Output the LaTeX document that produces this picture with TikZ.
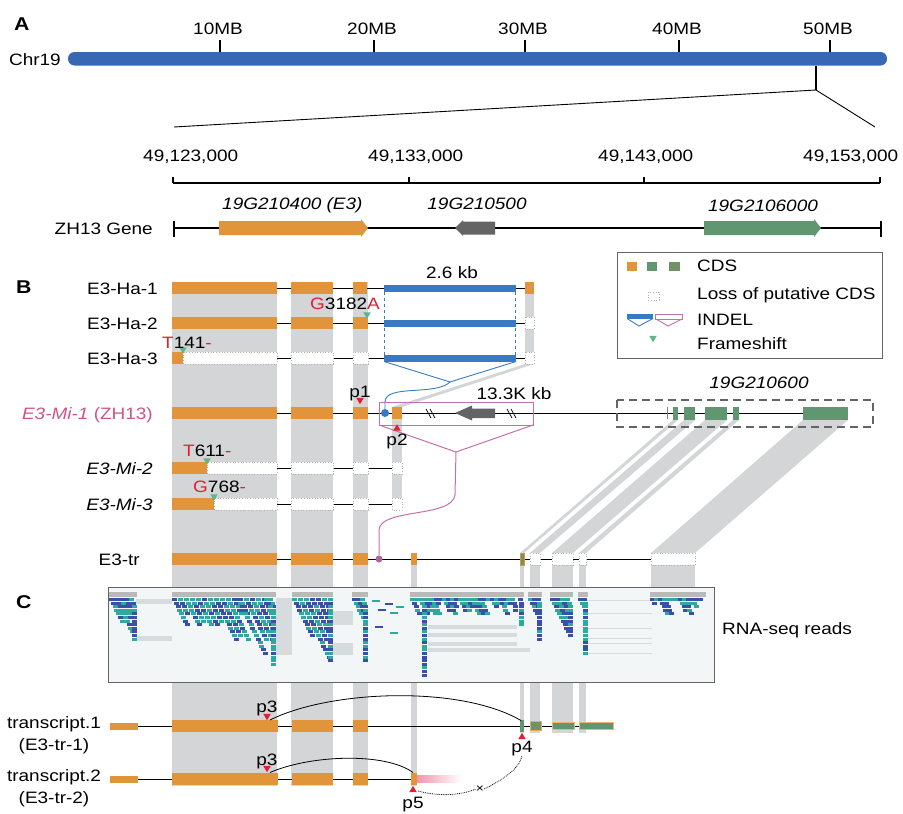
\documentclass[tikz,border=0pt]{standalone}
\usepackage{fontspec}
\setmainfont{Liberation Sans}[FakeStretch=1.15]
\usetikzlibrary{shapes.geometric}
\definecolor{cdsor}{RGB}{226,148,58}
\definecolor{cdsgr}{RGB}{96,150,112}
\definecolor{cdsgrb}{RGB}{112,146,102}
\definecolor{bandg}{RGB}{212,213,215}
\definecolor{chrblue}{RGB}{56,104,180}
\definecolor{indelblue}{RGB}{56,122,196}
\definecolor{indelpink}{RGB}{196,112,172}
\definecolor{mipink}{RGB}{206,84,134}
\definecolor{mkred}{RGB}{226,30,50}
\definecolor{fsgreen}{RGB}{92,184,138}
\definecolor{readteal}{RGB}{48,168,160}
\definecolor{readblue}{RGB}{58,80,168}
\definecolor{boxfill}{RGB}{243,246,246}
\definecolor{splitg}{RGB}{214,220,222}
\definecolor{dgray}{RGB}{100,100,100}
\definecolor{pinkutr}{RGB}{240,150,170}
\newcommand{\fsz}{\fontsize{16.5}{22}\selectfont}
\newcommand{\ex}[3]{\fill[cdsor] (#1,#3-6) rectangle (#2,#3+6);}
\newcommand{\lx}[3]{\filldraw[lost] (#1,#3-6) rectangle (#2,#3+6);}
\newcommand{\tdn}[3]{\fill[#3] (#1-3.8,#2-3.2) -- (#1+3.8,#2-3.2) -- (#1,#2+3.2) -- cycle;}
\newcommand{\tup}[3]{\fill[#3] (#1-3.8,#2+3.2) -- (#1+3.8,#2+3.2) -- (#1,#2-3.2) -- cycle;}
% staircase reads: x0, x1, min depth, max depth, spacing
\newcommand{\readcol}[5]{%
  \pgfmathtruncatemacro{\rdN}{(#2-#1-5)/#5}
  \foreach \kk in {0,...,\rdN}{
    \pgfmathrandominteger{\rdD}{#3}{#4}
    \foreach \rr in {0,...,\rdD}{
      \pgfmathrandominteger{\rdC}{0}{1}
      \ifnum\rdC=0\relax\def\rdCol{readteal}\else\def\rdCol{readblue}\fi
      \pgfmathsetmacro{\rdX}{min(#1+#5*\kk+1.8*\rr,#2-5)}
      \fill[\rdCol] (\rdX,{598+3.6*\rr}) rectangle ++(5,3);
    }
  }
}
\newcommand{\cov}[2]{\fill[gray!55] (#1,592) rectangle (#2,597.3);}
\tikzset{
  lost/.style={fill=white, draw=gray!60, dotted, line width=0.7pt},
  rowline/.style={draw=black, line width=0.8pt},
  txt/.style={font=\fsz, inner sep=0pt},
  panel/.style={font=\fontsize{18.5}{20}\selectfont\bfseries, inner sep=0pt, anchor=base west},
}
\begin{document}
\begin{tikzpicture}[x=1pt,y=-1pt]
\useasboundingbox (0,0) rectangle (903,814);
\pgfmathsetseed{11}

% ---------------- Panel A ----------------
\node[panel] (pA) at (14,30) {A};
\fill[chrblue, rounded corners=6.5pt] (68,52) rectangle (887,65.5);
\node[txt, anchor=base east] (chr) at (61,65) {Chr19};
\foreach \xx/\lab [count=\i] in {220/10MB,374/20MB,525/30MB,679/40MB,830/50MB}{
  \draw[line width=2pt] (\xx,40) -- (\xx,52);
  \node[txt, anchor=base] (mb\i) at (\xx-2,34.5) {\lab};
}
\coordinate (zoomtop) at (816,65.5);
\coordinate (zoomapex) at (816,90);
\coordinate (zoomL) at (174,127);
\coordinate (zoomR) at (875,127);
\draw[line width=1.5pt] (zoomtop) -- (zoomapex);
\draw[line width=0.9pt] (zoomL) -- (zoomapex) -- (zoomR);

\draw[line width=2.2pt] (173,183) -- (880,183);
\foreach \xx in {173,409,644,880}{
  \draw[line width=2pt] (\xx,176.5) -- (\xx,183);
}
\node[txt, anchor=base west] (s1) at (143,161) {49,123,000};
\node[txt, anchor=base west] (s2) at (368,161) {49,133,000};
\node[txt, anchor=base west] (s3) at (598,161) {49,143,000};
\node[txt, anchor=base west] (s4) at (803,161) {49,153,000};

\node[txt, anchor=base east] (zhg) at (153,234) {ZH13 Gene};
\draw[line width=2.2pt] (174,228) -- (881,228);
\draw[line width=2.2pt] (174,220.5) -- (174,236.5);
\draw[line width=2.2pt] (881,220.5) -- (881,236.5);
\fill[cdsor] (219,221) -- (361,221) -- (361,219) -- (368,228) -- (361,237) -- (361,235) -- (219,235) -- cycle;
\fill[dgray] (495,221.5) -- (463,221.5) -- (463,220) -- (455,228) -- (463,236) -- (463,234.5) -- (495,234.5) -- cycle;
\fill[cdsgr] (704,221) -- (814,221) -- (814,219) -- (821,228) -- (814,237) -- (814,235) -- (704,235) -- cycle;
\node[txt, anchor=base west] (g1) at (222,209) {\itshape 19G210400 (E3)};
\node[txt, anchor=base] (g2) at (477,209) {\itshape 19G210500};
\node[txt, anchor=base] (g3) at (763,211) {\itshape 19G2106000};

% ---------------- gray alignment bands ----------------
\fill[bandg] (172,282) rectangle (277,785.5);
\fill[bandg] (291,282) rectangle (333,785.5);
\fill[bandg] (353,282) rectangle (368,785.5);
\fill[bandg] (525,282) rectangle (534,364);
\fill[bandg] (525,364) -- (534,364) -- (402,407) -- (392,407) -- cycle;
\fill[bandg] (392,407) rectangle (402,510);
\fill[bandg] (411,553) rectangle (417,785.5);
\fill[bandg] (673,420) -- (678,420) -- (524,553) -- (520,553) -- cycle;
\fill[bandg] (684,420) -- (695,420) -- (540,553) -- (530,553) -- cycle;
\fill[bandg] (705,420) -- (727,420) -- (573,553) -- (552,553) -- cycle;
\fill[bandg] (733,420) -- (739,420) -- (586,553) -- (579,553) -- cycle;
\fill[bandg] (803,420) -- (848,420) -- (695,553) -- (651,553) -- cycle;
\fill[bandg] (520,553) rectangle (524,733);
\fill[bandg] (530,553) rectangle (540,733);
\fill[bandg] (552,553) rectangle (573,733);
\fill[bandg] (579,553) rectangle (586,733);
\fill[bandg] (651,553) rectangle (695,587);

% ---------------- Panel C: RNA-seq box ----------------
\node[panel] (pC) at (16,608) {C};
\fill[boxfill] (108,587) rectangle (714,682);
\fill[splitg] (136,599) rectangle (172,603.5);
\fill[splitg] (136,636) rectangle (172,641);
\fill[splitg] (276,598) rectangle (292,655);
\fill[splitg] (332,611) rectangle (353,625);
\fill[splitg] (332,643) rectangle (353,655);
\fill[splitg] (428,625) rectangle (517,629);
\fill[splitg] (428,633) rectangle (517,637);
\fill[splitg] (428,642) rectangle (517,645.5);
\fill[splitg] (428,648) rectangle (530,652);
\foreach \yy in {600,613,628,638,643,653}{
  \fill[splitg] (587,\yy) rectangle (652,\yy+1.3);
}
\cov{109}{137}\cov{172}{276}\cov{292}{333}\cov{352}{368}\cov{410}{518}
\cov{518}{524}\cov{528}{542}\cov{550}{573}\cov{578}{588}\cov{650}{706}
\readcol{109}{137}{3}{11}{5}
\readcol{172}{276}{4}{11}{6}
\readcol{236}{276}{12}{19}{14}
\readcol{292}{333}{6}{20}{6}
\readcol{352}{368}{10}{19}{4}
\readcol{410}{518}{0}{4}{4}
\readcol{418}{427}{21}{22}{10}
\readcol{518}{524}{3}{9}{3}
\readcol{528}{542}{4}{11}{4}
\readcol{550}{573}{4}{12}{5}
\readcol{578}{588}{8}{15}{4}
\readcol{650}{706}{0}{4}{4}
\foreach \xx/\yy/\cc in {372/600/readteal,385/603/readblue,396/606/readteal,378/609/readblue,390/612/readteal,375/626/readblue,390/632/readteal}{
  \fill[\cc] (\xx,\yy) rectangle ++(8,2);
}
\draw[dgray, line width=1pt] (108,587) rectangle (714,682);
\node[txt, anchor=base west] (rna) at (722,634) {RNA-seq reads};

% ---------------- Panel B ----------------
\node[panel] (pB) at (16,293) {B};
% row lines
\draw[rowline] (172,288) -- (534,288);
\draw[rowline] (172,323) -- (534,323);
\draw[rowline] (172,358) -- (534,358);
\draw[rowline] (172,413) -- (848,413);
\draw[rowline] (172,468) -- (402,468);
\draw[rowline] (172,504) -- (402,504);
\draw[rowline] (172,559) -- (695,559);
\draw[rowline] (110,726) -- (613,726);
\draw[rowline] (110,779) -- (417,779);

% labels
\node[txt, anchor=base east] (l1) at (158,294) {E3-Ha-1};
\node[txt, anchor=base east] (l2) at (158,329) {E3-Ha-2};
\node[txt, anchor=base east] (l3) at (158,364) {E3-Ha-3};
\node[txt, anchor=base east, text=mipink] (l4) at (153,419) {\itshape E3-Mi-1\upshape\ (ZH13)};
\node[txt, anchor=base east] (l5) at (153,474) {\itshape E3-Mi-2};
\node[txt, anchor=base east] (l6) at (153,510) {\itshape E3-Mi-3};
\node[txt, anchor=base east] (l7) at (140,565) {E3-tr};

% E3-Ha-1
\ex{172}{277}{288}\ex{291}{333}{288}\ex{353}{367}{288}\ex{525}{534}{288}
% E3-Ha-2
\ex{172}{277}{323}\ex{291}{333}{323}\ex{353}{368}{323}\lx{525}{534}{323}
% E3-Ha-3
\ex{172}{183}{358}\lx{183}{277}{358}\lx{291}{333}{358}\lx{353}{368}{358}\lx{525}{534}{358}
% INDEL 2.6 kb
\fill[indelblue] (384,284.8) rectangle (516,291.5);
\fill[indelblue] (384,319.8) rectangle (516,326.5);
\fill[indelblue] (384,354.8) rectangle (516,361.5);
\draw[indelblue, dashed, line width=1pt] (384.5,291.5) -- (384.5,354.8);
\draw[indelblue, dashed, line width=1pt] (515.5,291.5) -- (515.5,354.8);
\coordinate (bfun) at (450,382);
\draw[indelblue, line width=0.9pt] (384,361.5) -- (bfun) -- (516,361.5);
\node[txt, anchor=base] (kb26) at (452,278) {2.6 kb};
% E3-Mi-1
\ex{172}{277}{413}\ex{291}{333}{413}\ex{353}{368}{413}\ex{392}{402}{413}
\node[circle, fill=indelblue, inner sep=0pt, minimum size=8pt] (bdot) at (385,413) {};
\draw[indelblue, line width=0.9pt] (bfun) .. controls (436,396) and (385,384) .. (385,402) -- (bdot.north);
\draw[indelpink, line width=1pt] (379,402) rectangle (533,425);
\coordinate (pfun) at (456,452);
\draw[indelpink, line width=1pt] (379,425) -- (pfun) -- (533,425);
\fill[dgray] (455,413) -- (472,405.5) -- (472,408.5) -- (495,408.5) -- (495,418) -- (472,418) -- (472,420.5) -- cycle;
\foreach \xx in {426,507}{
  \draw[line width=0.7pt] (\xx,409) -- (\xx+5,418);
  \draw[line width=0.7pt] (\xx+4,409) -- (\xx+9,418);
}
\node[txt, anchor=base] (kb133) at (514,399) {13.3K kb};
% 19G210600
\draw[line width=0.6pt, gray] (667,407) -- (667,419);
\fill[cdsgr] (673,407) rectangle (678,420);
\fill[cdsgr] (684,407) rectangle (695,420);
\fill[cdsgr] (705,407) rectangle (727,420);
\fill[cdsgr] (733,407) rectangle (739,420);
\fill[cdsgr] (803,407) rectangle (848,420);
\draw[dgray, line width=2pt, dash pattern=on 8pt off 5pt] (617,400) rectangle (873,427);
\node[txt, anchor=base] (g600) at (759,388) {\itshape 19G210600};
% E3-Mi-2, E3-Mi-3
\ex{172}{207}{468}\lx{207}{277}{468}\lx{291}{333}{468}\lx{353}{368}{468}\lx{392}{402}{468}
\ex{172}{214}{504}\lx{214}{277}{504}\lx{291}{333}{504}\lx{353}{368}{504}\lx{392}{402}{504}
% E3-tr
\ex{172}{277}{559}\ex{291}{333}{559}\ex{353}{368}{559}\ex{411}{417}{559}
\filldraw[fill=cdsgrb, draw=cdsor, line width=0.5pt] (520,553) rectangle (524,565);
\lx{530}{540}{559}\lx{552}{573}{559}\lx{579}{586}{559}\lx{651}{695}{559}
\node[circle, fill=indelpink!90!black, inner sep=0pt, minimum size=7pt] (pdot) at (379,559) {};
\draw[indelpink, line width=1pt] (pfun) -- (455,495) .. controls (452,518) and (380,508) .. (379,530) -- (pdot.north);

% frameshift marks and labels
\tdn{367}{315.5}{fsgreen}
\tdn{183}{350.5}{fsgreen}
\tdn{207}{461.5}{fsgreen}
\tdn{214}{497.5}{fsgreen}
\node[txt, anchor=base west] (m1) at (310,309) {\textcolor{mkred}{G}3182\textcolor{mkred}{A}};
\node[txt, anchor=base west] (m2) at (162,348) {\textcolor{mkred}{T}141\textcolor{mkred}{-}};
\node[txt, anchor=base west] (m3) at (183,456) {\textcolor{mkred}{T}611\textcolor{mkred}{-}};
\node[txt, anchor=base west] (m4) at (193,492) {\textcolor{mkred}{G}768\textcolor{mkred}{-}};
\tdn{360}{401}{mkred}
\node[txt, anchor=base] (p1) at (360,397) {p1};
\tup{397}{427.5}{mkred}
\node[txt, anchor=base] (p2) at (397,445) {p2};

% ---------------- transcripts ----------------
\node[txt, align=center, anchor=north] (tr1) at (54,716) {transcript.1\\(E3-tr-1)};
\node[txt, align=center, anchor=north] (tr2) at (54,769) {transcript.2\\(E3-tr-2)};
% transcript.1
\fill[cdsor] (110,722.5) rectangle (138,729.5);
\ex{172}{278}{726}\ex{292}{333}{726}\ex{353}{368}{726}
\fill[cdsgr] (520,720) rectangle (524,732);
\filldraw[fill=cdsgrb, draw=cdsor!80, line width=0.5pt] (530,721.5) rectangle (541,730.5);
\filldraw[fill=cdsgr, draw=cdsor!70, line width=0.5pt] (552,722.5) rectangle (574,729.5);
\filldraw[fill=cdsgr, draw=cdsor!70, line width=0.5pt] (579,722.5) rectangle (613,729.5);
% transcript.2
\fill[cdsor] (110,775.5) rectangle (138,782.5);
\ex{172}{278}{779}\ex{292}{333}{779}\ex{353}{368}{779}
\fill[cdsor] (411,773) rectangle (417,785);
\shade[left color=pinkutr, right color=white] (417,775.5) rectangle (461,782.5);
% p markers
\tdn{267}{717}{mkred}
\node[txt, anchor=base] (p3a) at (267,712) {p3};
\tdn{267}{769}{mkred}
\node[txt, anchor=base] (p3b) at (267,765) {p3};
\tup{522}{736}{mkred}
\node[txt, anchor=base] (p4) at (522,752) {p4};
\tup{413}{789}{mkred}
\node[txt, anchor=base] (p5) at (413,808) {p5};
\coordinate (a1s) at (270,720);
\coordinate (a1e) at (521,720.5);
\coordinate (a2s) at (270,772.5);
\coordinate (a2e) at (413,772.5);
\draw[line width=0.8pt] (a1s) .. controls (330,690) and (460,685) .. (a1e);
\draw[line width=0.8pt] (a2s) .. controls (310,755) and (385,752) .. (a2e);
\node[font=\fontsize{12}{12}\selectfont, inner sep=0pt] (xmark) at (480,789) {×};
\draw[densely dotted, line width=0.8pt] (418,791) .. controls (440,797) and (462,795) .. (xmark.west);
\draw[densely dotted, line width=0.8pt] (xmark.east) .. controls (500,781) and (519,770) .. (522,756);

% ---------------- legend ----------------
\draw[dgray, line width=0.9pt] (617,252) rectangle (882,358);
\fill[cdsor] (627,262) rectangle (637,271);
\fill[cdsgr] (647,262) rectangle (657,271);
\fill[cdsgrb] (669,262) rectangle (680,271);
\node[txt, anchor=base west] (lg1) at (697,271.5) {CDS};
\filldraw[lost] (648,292) rectangle (659,300);
\node[txt, anchor=base west] (lg2) at (697,299.5) {Loss of putative CDS};
\fill[indelblue] (627,314) rectangle (653,318.5);
\draw[indelblue, line width=0.9pt] (627,318.5) -- (639,326) -- (653,318.5);
\draw[indelpink, line width=0.9pt] (655.5,314) rectangle (682,319);
\draw[indelpink, line width=0.9pt] (656,319) -- (668,326) -- (682,319);
\node[txt, anchor=base west] (lg3) at (697,325.5) {INDEL};
\tdn{653}{339}{fsgreen}
\node[txt, anchor=base west] (lg4) at (697,349.5) {Frameshift};
\end{tikzpicture}
\end{document}
